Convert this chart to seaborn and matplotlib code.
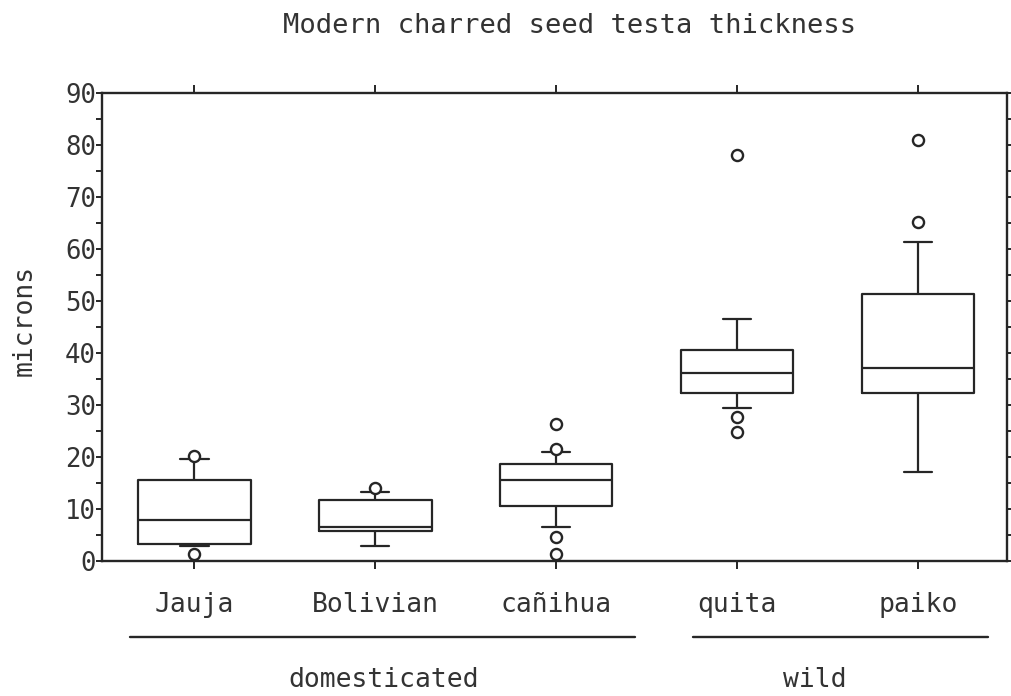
import pandas as pd
import matplotlib
matplotlib.use("Agg")
import matplotlib.pyplot as plt
import matplotlib.ticker as mticker
import seaborn as sns

# --- data (microns) ---
categories = ["Jauja", "Bolivian", "cañihua", "quita", "paiko"]

jauja = [1.3, 2.9, 2.9, 3.0, 3.2, 3.3, 4.1, 5.0, 6.2, 7.0, 7.9,
         9.4, 11.0, 12.5, 14.1, 15.6, 17.0, 18.3, 19.6, 19.6, 20.2]
bolivian = [2.9, 2.9, 2.9, 4.0, 5.1, 5.8, 6.0, 6.1, 6.3, 6.4, 6.6,
            7.8, 9.0, 10.1, 11.0, 11.8, 12.3, 12.9, 13.3, 13.3, 14.1]
canihua = [1.3, 4.6, 6.6, 8.2, 9.5, 10.6, 12.0, 13.1, 14.0, 14.9, 15.6,
           16.2, 16.9, 17.5, 18.1, 18.7, 19.5, 20.3, 21.0, 21.6, 26.4]
quita = [24.9, 27.8, 29.5, 30.6, 31.5, 32.3, 33.4, 34.2, 35.0, 35.6, 36.2,
         37.0, 37.9, 38.8, 39.7, 40.6, 42.4, 44.5, 46.6, 46.6, 78.2]
paiko = [17.1, 17.1, 17.1, 24.0, 29.0, 32.3, 33.5, 34.6, 35.5, 36.4, 37.2,
         40.5, 43.8, 46.9, 49.3, 51.4, 54.6, 58.0, 61.3, 65.3, 81.1]

groups = ["domesticated", "wild"]

y_ticks = [0, 10, 20, 30, 40, 50, 60, 70, 80, 90]

# long-form table for seaborn
values = [jauja, bolivian, canihua, quita, paiko]
df = pd.DataFrame({
    "sample": [c for c, v in zip(categories, values) for _ in v],
    "microns": [x for v in values for x in v],
})

ink = "#262626"
text_ink = "#333333"

sns.set_theme(style="ticks")
plt.rcParams["font.family"] = ["DejaVu Sans Mono", "DejaVu Sans"]

fig = plt.figure(figsize=(10.12, 6.96), dpi=100)
ax = fig.add_axes([0.101, 0.194, 0.894, 0.672])

# whiskers at the 10th / 90th percentiles, points beyond drawn as circles
sns.boxplot(data=df, x="sample", y="microns", order=categories, ax=ax,
            whis=(10, 90), width=0.62, fill=False, color=ink, linewidth=1.6,
            fliersize=8, capwidths=0.155,
            flierprops=dict(marker="o", markerfacecolor="white",
                            markeredgecolor=ink, markeredgewidth=1.7))

ax.set_xlim(-0.51, 4.49)
ax.set_ylim(0, 90)
ax.set_yticks(y_ticks)
ax.yaxis.set_minor_locator(mticker.MultipleLocator(5))
ax.set_xlabel("")
ax.set_ylabel("microns", fontsize=19, color=text_ink)
ax.yaxis.set_label_coords(-0.071, 0.515)

for side in ["left", "right", "top", "bottom"]:
    ax.spines[side].set_visible(True)
    ax.spines[side].set_linewidth(1.7)
    ax.spines[side].set_color(ink)

ax.tick_params(axis="both", which="both", direction="out", color=ink,
               width=1.4, top=True, right=True)
ax.tick_params(axis="x", length=6, pad=16, labelsize=19, labelcolor=text_ink)
ax.tick_params(axis="y", which="major", length=4, pad=0.5, labelsize=18.5,
               labelcolor=text_ink)
ax.tick_params(axis="y", which="minor", length=4)

fig.text(0.563, 0.962, "Modern charred seed testa thickness",
         ha="center", va="center", fontsize=19.5, color=text_ink)

# group brackets under the category labels
trans = ax.get_xaxis_transform()
spans = [(-0.354, 2.436), (2.757, 4.387)]
label_x = [1.044, 3.43]
for name, (x0, x1), lx in zip(groups, spans, label_x):
    ax.plot([x0, x1], [-0.162, -0.162], transform=trans, color=ink,
            lw=1.7, clip_on=False)
    ax.text(lx, -0.254, name, transform=trans, ha="center", va="center",
            fontsize=19, color=text_ink)

fig.savefig("out.png", dpi=100, facecolor="white")
